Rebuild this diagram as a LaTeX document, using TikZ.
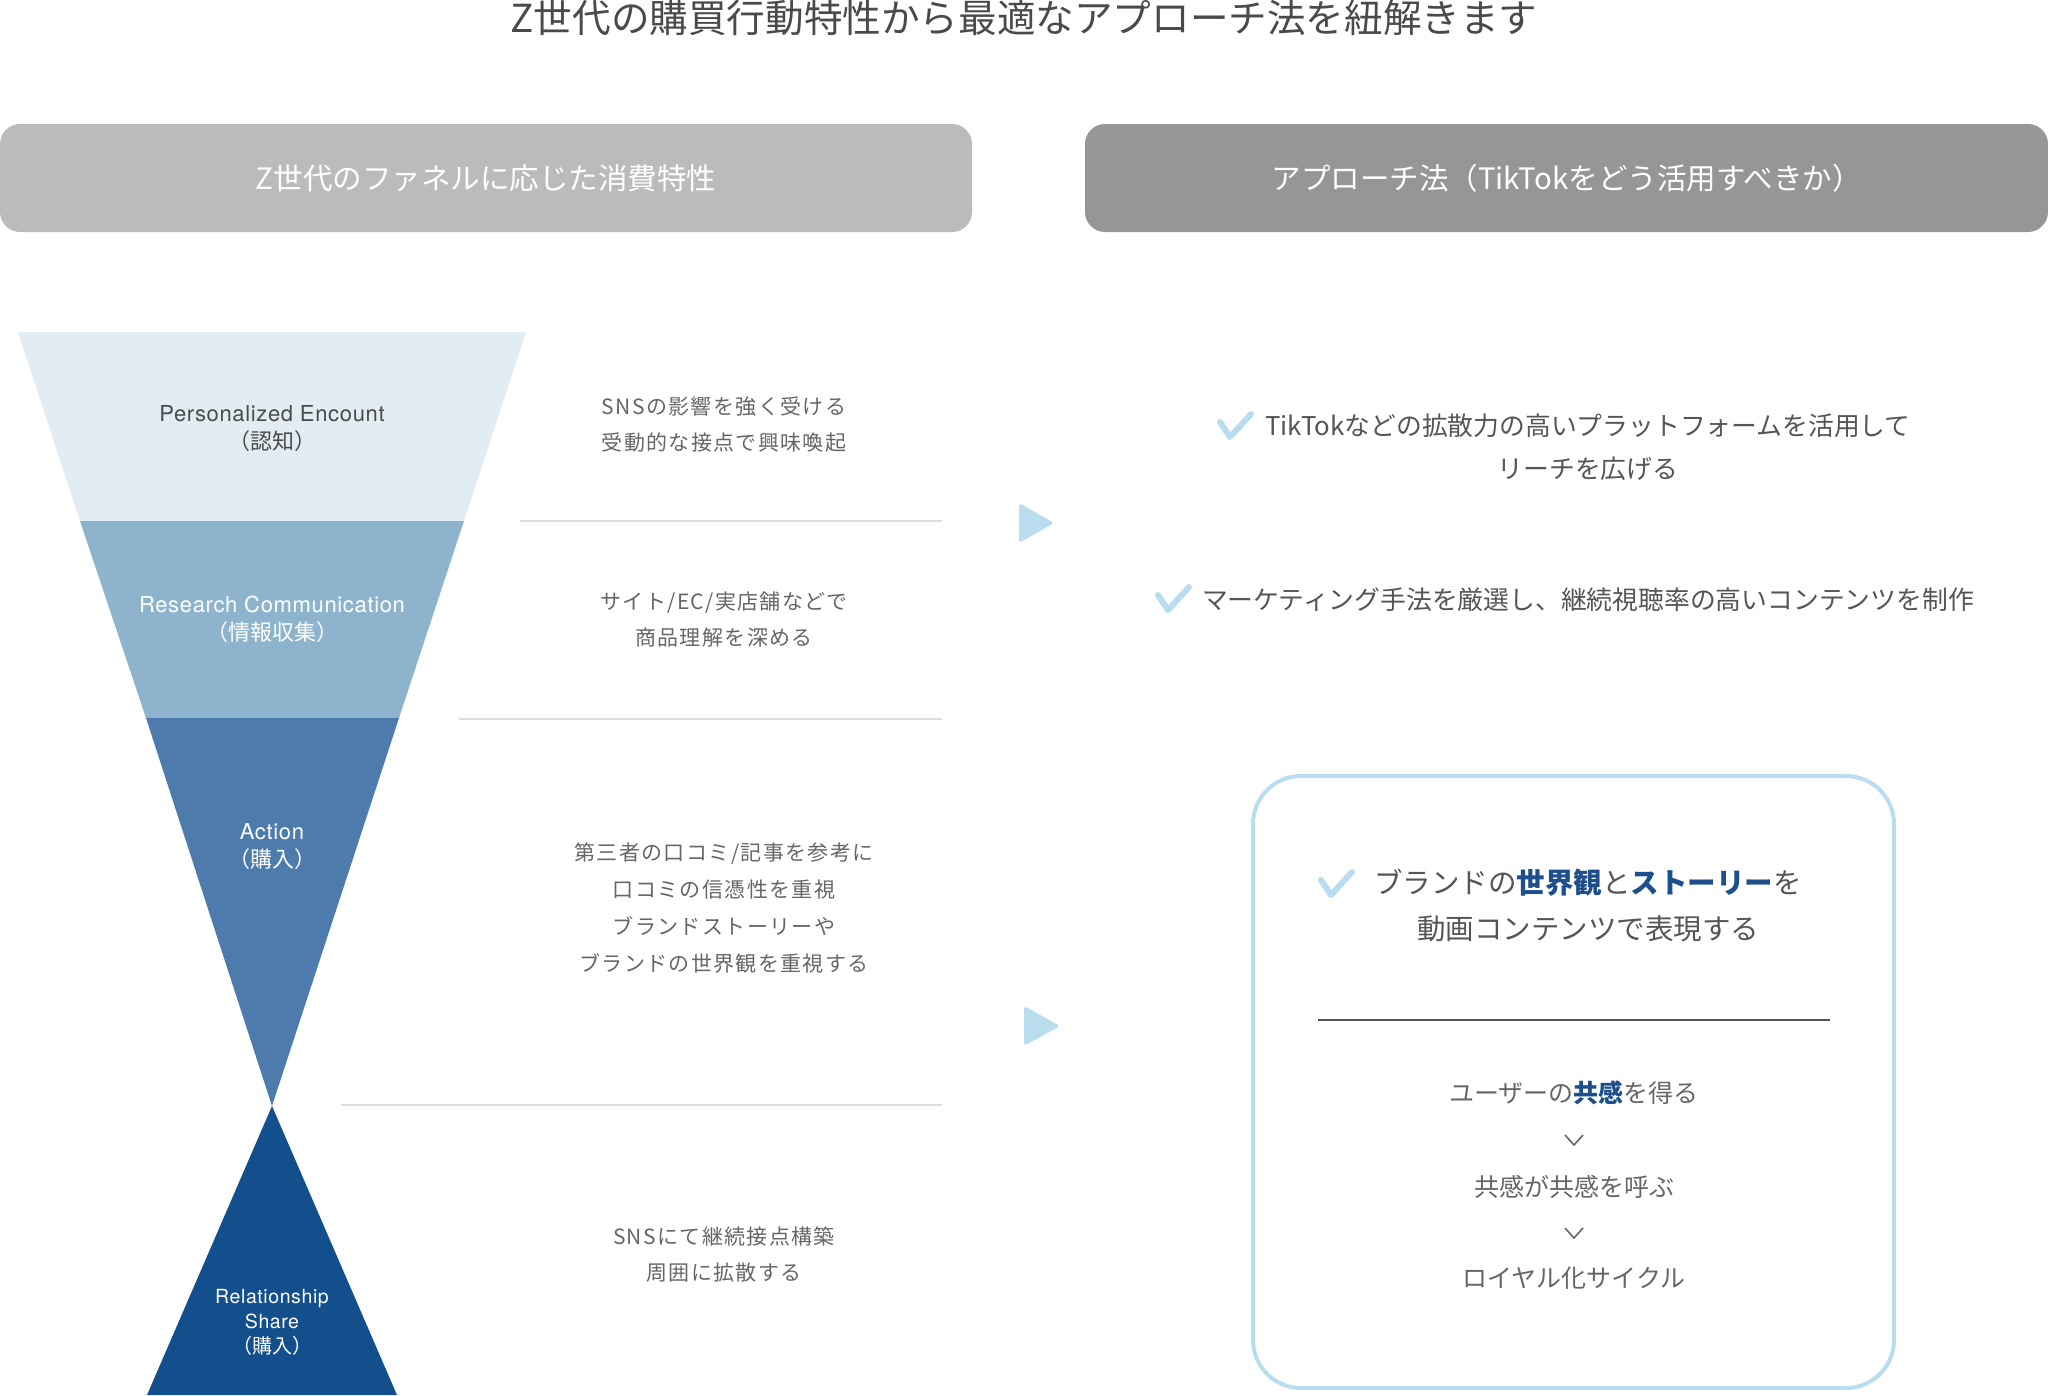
\documentclass[tikz,border=0pt]{standalone}
\usepackage{fontspec}
\setmainfont{Noto Sans CJK JP}
\newfontfamily\latinfont[LetterSpace=3]{TeX Gyre Heros}
\usetikzlibrary{positioning}
\definecolor{bandA}{HTML}{E1ECF3}
\definecolor{bandB}{HTML}{8EB3CC}
\definecolor{bandC}{HTML}{4D7CAC}
\definecolor{bandD}{HTML}{134F8C}
\definecolor{headA}{HTML}{BBBBBB}
\definecolor{headB}{HTML}{969696}
\definecolor{skyblue}{HTML}{B9DCEF}
\definecolor{keyblue}{HTML}{1C4F8C}
\definecolor{darktxt}{HTML}{4A4A4A}
\definecolor{midtxt}{HTML}{555555}
\definecolor{softtxt}{HTML}{666666}
\definecolor{sepgray}{HTML}{DDDDDD}
\newcommand{\keyword}[1]{\textbf{\textcolor{keyblue}{#1}}}
\tikzset{okmark/.pic={\draw[skyblue, line width=6pt, line cap=round, line join=round] (3,10) -- (13,25) -- (34,2);}}
\begin{document}
\begin{tikzpicture}[x=1pt,y=-1pt]
\tikzstyle{header}=[rounded corners=20pt, text=white, minimum height=108pt, font=\fontsize{29.5}{36}\selectfont]
  \tikzstyle{stage}=[align=center, font=\latinfont\fontsize{22}{28}\selectfont]
  \tikzstyle{trait}=[align=center, text=softtxt, font=\fontsize{21}{36}\selectfont\addfontfeatures{LetterSpace=6.5}]
  \tikzstyle{approach}=[align=center, text=midtxt, font=\fontsize{25.8}{43}\selectfont]
  \tikzstyle{boxtext}=[align=center, text=midtxt, font=\fontsize{28.5}{46}\selectfont]
  \tikzstyle{steptext}=[text=softtxt, font=\fontsize{25}{30}\selectfont]
  \tikzstyle{sepline}=[sepgray, line width=2pt]
  \tikzstyle{chevron}=[softtxt, line width=1.6pt]
  \useasboundingbox (0,0) rectangle (2048,1395);

  \node[text=darktxt, font=\fontsize{38.6}{46}\selectfont] (title) at (1024,18) {Z世代の購買行動特性から最適なアプローチ法を紐解きます};

  \node[header, fill=headA, minimum width=972pt] (leftHead) at (486,178) {Z世代のファネルに応じた消費特性};
  \node[header, fill=headB, minimum width=963pt] (rightHead) at (1566.5,178) {アプローチ法（TikTokをどう活用すべきか）};

  \fill[bandA] (18,332) -- (526,332) -- (464,521) -- (80,521) -- cycle;
  \fill[bandB] (80,521) -- (464,521) -- (399,718) -- (146,718) -- cycle;
  \fill[bandC] (146,718) -- (399,718) -- (272,1106) -- cycle;
  \fill[bandD] (272,1106) -- (397,1395) -- (147,1395) -- cycle;

  \node[stage, text=darktxt] (encount) at (272,429) {Personalized Encount\\{\normalfont\fontsize{22}{28}\selectfont （認知）}};
  \node[stage, text=white] (research) at (272,619) {Research Communication\\{\normalfont\fontsize{22}{28}\selectfont （情報収集）}};
  \node[stage, text=white] (action) at (272,847) {Action\\{\normalfont\fontsize{22}{28}\selectfont （購入）}};
  \node[stage, text=white, font=\latinfont\fontsize{19.5}{25}\selectfont] (share) at (272,1322) {Relationship\\Share\\{\normalfont\fontsize{20}{25}\selectfont （購入）}};

  \draw[sepline] (520,521) -- (942,521);
  \draw[sepline] (459,719) -- (942,719);
  \draw[sepline] (341,1105) -- (942,1105);

  \node[trait] (passive) at (724,425) {SNSの影響を強く受ける\\受動的な接点で興味喚起};
  \node[trait] (compare) at (724,620) {サイト/EC/実店舗などで\\商品理解を深める};
  \node[trait, font=\fontsize{21}{37}\selectfont\addfontfeatures{LetterSpace=6.5}] (review) at (724,908) {第三者の口コミ/記事を参考に\\口コミの信憑性を重視\\ブランドストーリーや\\ブランドの世界観を重視する};
  \node[trait] (spread) at (724,1255) {SNSにて継続接点構築\\周囲に拡散する};

  \fill[skyblue, rounded corners=3pt] (1019,503) -- (1054,523) -- (1019,543) -- cycle;
  \fill[skyblue, rounded corners=3pt] (1024,1006) -- (1060,1026) -- (1024,1046) -- cycle;

  \node[approach] (reach) at (1588,447) {TikTokなどの拡散力の高いプラットフォームを活用して\\リーチを広げる};
  \pic at (1217,412) {okmark};
  \node[approach] (content) at (1588,600) {マーケティング手法を厳選し、継続視聴率の高いコンテンツを制作};
  \pic at (1155,585) {okmark};

  \draw[skyblue, line width=4pt, rounded corners=48pt] (1253,776) rectangle (1894,1388);
  \node[boxtext] (brand) at (1588,905) {ブランドの\keyword{世界観}と\keyword{ストーリー}を\\動画コンテンツで表現する};
  \pic at (1318,870) {okmark};
  \draw[midtxt, line width=2pt] (1318,1020) -- (1830,1020);

  \node[steptext] (empathy) at (1574,1093) {ユーザーの\keyword{共感}を得る};
  \node[steptext] (chain) at (1574,1187) {共感が共感を呼ぶ};
  \node[steptext] (loyal) at (1574,1278) {ロイヤル化サイクル};
  \draw[chevron] (1565,1135) -- (1574,1145) -- (1583,1135);
  \draw[chevron] (1565,1228) -- (1574,1238) -- (1583,1228);
\end{tikzpicture}
\end{document}
